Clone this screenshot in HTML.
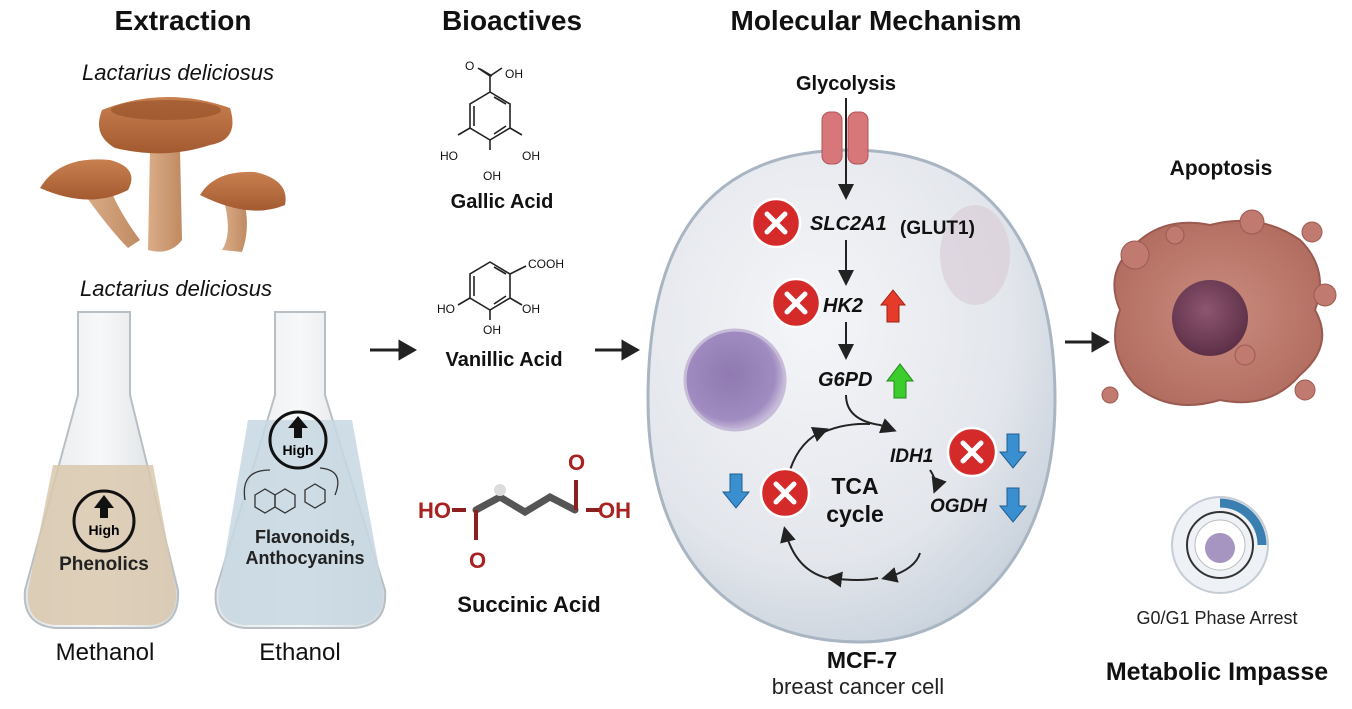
<!DOCTYPE html>
<html><head><meta charset="utf-8"><style>
body{margin:0;background:#fff;}
svg{display:block;font-family:"Liberation Sans",sans-serif;}
</style></head><body>
<svg width="1352" height="709" viewBox="0 0 1352 709" xmlns="http://www.w3.org/2000/svg">
<defs>
<radialGradient id="cell" cx="40%" cy="35%" r="70%"><stop offset="0" stop-color="#f4f5f8"/><stop offset="0.7" stop-color="#e3e6ec"/><stop offset="1" stop-color="#c9d2dc"/></radialGradient>
<radialGradient id="nuc" cx="45%" cy="45%" r="60%"><stop offset="0" stop-color="#8f79b0"/><stop offset="0.75" stop-color="#a08cc0"/><stop offset="1" stop-color="#d8cfe6"/></radialGradient>
<radialGradient id="apo" cx="50%" cy="50%" r="60%"><stop offset="0" stop-color="#c98c7e"/><stop offset="1" stop-color="#b06a5e"/></radialGradient>
<radialGradient id="apn" cx="45%" cy="40%" r="60%"><stop offset="0" stop-color="#8d5570"/><stop offset="1" stop-color="#5e3048"/></radialGradient>
<linearGradient id="mush" x1="0" y1="0" x2="0" y2="1"><stop offset="0" stop-color="#c98050"/><stop offset="1" stop-color="#a35a30"/></linearGradient>
<linearGradient id="stem" x1="0" y1="0" x2="1" y2="0"><stop offset="0" stop-color="#d9ad88"/><stop offset="1" stop-color="#c08a62"/></linearGradient>
<linearGradient id="glass" x1="0" y1="0" x2="1" y2="0"><stop offset="0" stop-color="#e3e6e8"/><stop offset="0.5" stop-color="#f7f8f9"/><stop offset="1" stop-color="#d5dadd"/></linearGradient>
<marker id="ah" markerWidth="8" markerHeight="8" refX="6" refY="4" orient="auto"><path d="M0,0 L8,4 L0,8 Z" fill="#222"/></marker>
<g id="x"><circle r="24" fill="#d42a2a" stroke="#fff" stroke-width="2.5"/><path d="M-9,-9 L9,9 M9,-9 L-9,9" stroke="#fff" stroke-width="5" stroke-linecap="round"/></g>
<g id="down"><path d="M-6,-18 L6,-18 L6,0 L13,0 L0,16 L-13,0 L-6,0 Z" fill="#3a8fd0" stroke="#1e5f90" stroke-width="1"/></g>
</defs>

<text x="183" y="30" font-size="28" font-weight="bold" text-anchor="middle" fill="#111">Extraction</text>
<text x="512" y="30" font-size="28" font-weight="bold" text-anchor="middle" fill="#111">Bioactives</text>
<text x="876" y="30" font-size="28" font-weight="bold" text-anchor="middle" fill="#111">Molecular Mechanism</text>
<text x="178" y="80" font-size="22" font-style="italic" text-anchor="middle" fill="#111">Lactarius deliciosus</text>
<text x="176" y="296" font-size="22" font-style="italic" text-anchor="middle" fill="#111">Lactarius deliciosus</text>

<!-- Mushrooms -->
<path d="M150,150 L180,150 L182,240 Q170,256 148,250 Z" fill="url(#stem)"/>
<path d="M102,110 Q165,85 230,108 Q240,140 210,145 Q165,160 115,148 Q92,135 102,110 Z" fill="url(#mush)"/>
<ellipse cx="166" cy="110" rx="55" ry="10" fill="#8a4620" opacity="0.5"/>
<path d="M85,195 Q110,230 128,248 L140,240 Q118,210 110,188 Z" fill="url(#stem)"/>
<path d="M40,188 Q60,155 110,160 Q140,168 128,190 Q90,210 40,188 Z" fill="url(#mush)"/>
<path d="M225,205 Q232,235 222,250 L242,252 Q250,230 245,205 Z" fill="url(#stem)"/>
<path d="M200,195 Q215,170 255,172 Q290,180 285,205 Q250,220 200,195 Z" fill="url(#mush)"/>

<!-- Flasks -->
<path d="M78,312 L130,312 L130,395 L178,590 Q180,625 150,628 L55,628 Q22,625 25,590 L78,395 Z" fill="url(#glass)" stroke="#b8bfc4" stroke-width="2"/>
<path d="M53,465 L153,465 L176,590 Q178,623 150,625 L55,625 Q25,623 28,590 Z" fill="#d9c8ae" opacity="0.85"/>
<circle cx="104" cy="521" r="30" fill="none" stroke="#111" stroke-width="3"/>
<path d="M104,495 L114,508 L108,508 L108,518 L100,518 L100,508 L94,508 Z" fill="#111"/>
<text x="104" y="535" font-size="14" font-weight="bold" text-anchor="middle">High</text>
<text x="104" y="570" font-size="19" font-weight="bold" text-anchor="middle" fill="#222">Phenolics</text>
<text x="105" y="660" font-size="24" text-anchor="middle" fill="#111">Methanol</text>

<path d="M275,312 L325,312 L325,395 L385,590 Q388,625 355,628 L245,628 Q212,625 216,590 L275,395 Z" fill="url(#glass)" stroke="#b8bfc4" stroke-width="2"/>
<path d="M248,420 L352,420 L383,590 Q385,623 355,625 L245,625 Q215,623 219,590 Z" fill="#c7d7e2" opacity="0.85"/>
<circle cx="298" cy="440" r="28" fill="none" stroke="#111" stroke-width="3"/>
<path d="M298,416 L308,428 L302,428 L302,438 L294,438 L294,428 L288,428 Z" fill="#111"/>
<text x="298" y="455" font-size="14" font-weight="bold" text-anchor="middle">High</text>
<g stroke="#333" fill="none" stroke-width="1.3"><path d="M255,495 l10,-6 10,6 0,12 -10,6 -10,-6 Z"/><path d="M275,495 l10,-6 10,6 0,12 -10,6 -10,-6 Z"/><path d="M305,490 l10,-6 10,6 0,12 -10,6 -10,-6 Z"/><path d="M245,500 Q240,470 270,470" /><path d="M335,495 Q345,470 320,468"/></g>
<text x="305" y="543" font-size="18" font-weight="bold" text-anchor="middle" fill="#222">Flavonoids,</text>
<text x="305" y="564" font-size="18" font-weight="bold" text-anchor="middle" fill="#222">Anthocyanins</text>
<text x="300" y="660" font-size="24" text-anchor="middle" fill="#111">Ethanol</text>

<g stroke="#222" stroke-width="3" fill="#222">
<line x1="370" y1="350" x2="402" y2="350"/><path d="M400,342 L414,350 L400,358 Z"/>
<line x1="595" y1="350" x2="625" y2="350"/><path d="M623,342 L637,350 L623,358 Z"/>
<line x1="1065" y1="342" x2="1095" y2="342"/><path d="M1093,334 L1107,342 L1093,350 Z"/>
</g>

<!-- Gallic acid -->
<g stroke="#222" stroke-width="1.6" fill="none">
<path d="M490,92 L510,104 L510,128 L490,140 L470,128 L470,104 Z"/>
<path d="M494,97 L506,104 M506,126 L494,134 M474,126 L474,106"/>
<path d="M490,92 L490,76 L478,68 M490,76 L502,68 M492,76 L480,69"/>
<path d="M470,128 L458,135 M510,128 L522,135 M490,140 L490,150"/>
</g>
<g font-size="12" fill="#111"><text x="505" y="78">OH</text><text x="465" y="70">O</text><text x="440" y="160">HO</text><text x="522" y="160">OH</text><text x="483" y="180">OH</text></g>
<text x="502" y="208" font-size="20" font-weight="bold" text-anchor="middle" fill="#111">Gallic Acid</text>

<!-- Vanillic acid -->
<g stroke="#222" stroke-width="1.6" fill="none">
<path d="M490,262 L510,274 L510,298 L490,310 L470,298 L470,274 Z"/>
<path d="M494,267 L506,274 M506,296 L494,304 M474,296 L474,276"/>
<path d="M510,274 L526,266 M470,298 L458,305 M510,298 L522,305 M490,310 L490,320"/>
</g>
<g font-size="12" fill="#111"><text x="528" y="268">COOH</text><text x="437" y="313">HO</text><text x="522" y="313">OH</text><text x="483" y="334">OH</text></g>
<text x="504" y="366" font-size="20" font-weight="bold" text-anchor="middle" fill="#111">Vanillic Acid</text>

<!-- Succinic acid -->
<g stroke="#555" stroke-width="7" fill="none" stroke-linecap="round">
<path d="M476,510 L500,497 L525,512 L550,497 L575,510"/>
</g>
<g stroke="#8b1e1e" stroke-width="4" fill="none"><path d="M476,510 L476,540 M576,510 L576,480 M466,510 L452,510 M586,510 L600,510"/></g>
<circle cx="500" cy="490" r="6" fill="#ddd"/>
<g font-size="22" font-weight="bold" fill="#a82222"><text x="418" y="518">HO</text><text x="598" y="518">OH</text><text x="469" y="568">O</text><text x="568" y="470">O</text></g>
<text x="529" y="612" font-size="22" font-weight="bold" text-anchor="middle" fill="#111">Succinic Acid</text>

<!-- Cell -->
<path d="M850,150 C1000,150 1055,260 1055,400 C1055,565 960,642 860,642 C740,642 648,565 648,400 C648,250 700,150 850,150 Z" fill="url(#cell)" stroke="#a9b5c2" stroke-width="3"/>
<ellipse cx="975" cy="255" rx="35" ry="50" fill="#d9c9d6" opacity="0.6"/>
<circle cx="735" cy="380" r="50" fill="url(#nuc)" stroke="#c7bcd8" stroke-width="3"/>
<text x="846" y="90" font-size="20" font-weight="bold" text-anchor="middle" fill="#111">Glycolysis</text>
<rect x="822" y="112" width="20" height="52" rx="8" fill="#d8777a" stroke="#b05458"/>
<rect x="848" y="112" width="20" height="52" rx="8" fill="#d8777a" stroke="#b05458"/>
<g stroke="#222" stroke-width="2" fill="none" marker-end="url(#ah)">
<line x1="846" y1="98" x2="846" y2="196"/>
<line x1="846" y1="240" x2="846" y2="282"/>
<line x1="846" y1="322" x2="846" y2="356"/>
<path d="M846,395 Q846,420 880,425 L893,430"/>
<path d="M818,435 Q840,423 870,424" marker-end="none"/>
<path d="M790,470 Q800,440 825,430"/>
<path d="M827,578 Q795,570 785,530"/>
<path d="M878,578 Q860,582 830,578" />
<path d="M920,553 Q915,570 885,578"/>
<path d="M930,470 Q938,482 935,490"/>
</g>
<use href="#x" x="776" y="223"/>
<text x="810" y="230" font-size="20" font-weight="bold" font-style="italic" fill="#111">SLC2A1</text>
<text x="900" y="234" font-size="19" font-weight="bold" fill="#111">(GLUT1)</text>
<use href="#x" x="796" y="303"/>
<text x="823" y="312" font-size="20" font-weight="bold" font-style="italic" fill="#111">HK2</text>
<path d="M887,322 L899,322 L899,305 L905,305 L893,290 L881,305 L887,305 Z" fill="#e63a2a" stroke="#a02010"/>
<text x="818" y="386" font-size="20" font-weight="bold" font-style="italic" fill="#111">G6PD</text>
<path d="M894,398 L906,398 L906,381 L913,381 L900,364 L887,381 L894,381 Z" fill="#3dcc2e" stroke="#208a18"/>
<text x="890" y="462" font-size="19" font-weight="bold" font-style="italic" fill="#111">IDH1</text>
<use href="#x" x="972" y="452"/>
<use href="#down" x="1013" y="452"/>
<text x="930" y="512" font-size="19" font-weight="bold" font-style="italic" fill="#111">OGDH</text>
<use href="#down" x="1013" y="506"/>
<use href="#x" x="785" y="493"/>
<use href="#down" x="736" y="492"/>
<text x="855" y="494" font-size="23" font-weight="bold" text-anchor="middle" fill="#111">TCA</text>
<text x="855" y="522" font-size="23" font-weight="bold" text-anchor="middle" fill="#111">cycle</text>
<text x="862" y="668" font-size="23" font-weight="bold" text-anchor="middle" fill="#111">MCF-7</text>
<text x="858" y="694" font-size="22" text-anchor="middle" fill="#222">breast cancer cell</text>

<!-- Apoptosis -->
<text x="1221" y="175" font-size="21" font-weight="bold" text-anchor="middle" fill="#111">Apoptosis</text>
<path d="M1130,250 Q1160,215 1210,225 Q1260,212 1300,240 Q1330,270 1315,310 Q1335,345 1300,375 Q1270,410 1220,400 Q1170,415 1135,385 Q1105,350 1120,310 Q1105,275 1130,250 Z" fill="url(#apo)" stroke="#9b5a50" stroke-width="2"/>
<circle cx="1210" cy="318" r="38" fill="url(#apn)"/>
<g fill="#c07a70" stroke="#9b5a50"><circle cx="1252" cy="222" r="12"/><circle cx="1312" cy="232" r="10"/><circle cx="1325" cy="295" r="11"/><circle cx="1305" cy="390" r="10"/><circle cx="1135" cy="255" r="14"/><circle cx="1175" cy="235" r="9"/><circle cx="1245" cy="355" r="10"/><circle cx="1110" cy="395" r="8"/></g>
<circle cx="1220" cy="545" r="48" fill="#eef1f5" stroke="#c5ccd5" stroke-width="2"/>
<path d="M1220,503 A42,42 0 0 1 1262,545" fill="none" stroke="#3a7fb0" stroke-width="9"/>
<circle cx="1220" cy="545" r="33" fill="none" stroke="#333" stroke-width="2"/>
<circle cx="1220" cy="545" r="25" fill="#fff" stroke="#bbb"/>
<circle cx="1220" cy="548" r="15" fill="#a595c0"/>
<text x="1217" y="624" font-size="18" text-anchor="middle" fill="#222">G0/G1 Phase Arrest</text>
<text x="1217" y="680" font-size="25" font-weight="bold" text-anchor="middle" fill="#111">Metabolic Impasse</text>
</svg>
</body></html>
